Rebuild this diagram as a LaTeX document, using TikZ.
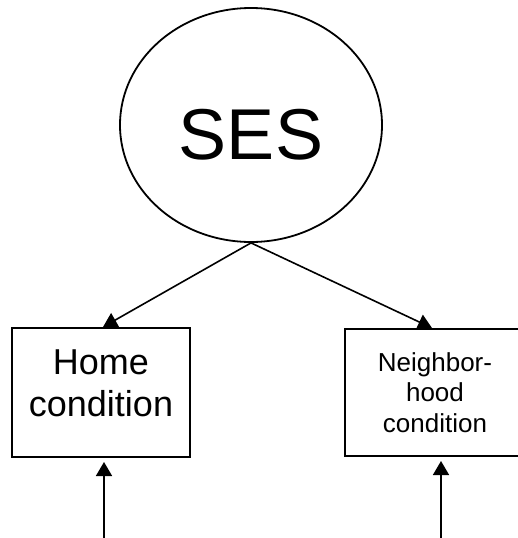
\documentclass[tikz,border=0pt]{standalone}
\usepackage{fontspec}
\setmainfont{Liberation Sans}
\usetikzlibrary{shapes.geometric,arrows.meta}
\begin{document}
\begin{tikzpicture}[x=1pt,y=-1pt,
  line/.style={line width=1.6pt},
  arr/.style={line, -{Triangle[length=14pt,width=16pt]}},
  boxnode/.style={draw, line width=2pt, rectangle, inner sep=0pt, align=center}]
\useasboundingbox (0,0) rectangle (517,538);
\node[draw, line width=1.8pt, ellipse, inner sep=0pt, minimum width=262pt, minimum height=234pt,
      text height=68pt, text depth=0pt, font=\fontsize{72}{86}\selectfont] (ses) at (251,125) {SES};
\node[boxnode, minimum width=178pt, minimum height=129pt, text depth=19pt,
      font=\fontsize{36}{41.5}\selectfont] (home) at (101,392.5) {Home\\condition};
\node[boxnode, minimum width=180pt, minimum height=127pt,
      font=\fontsize{26}{30.5}\selectfont] (nb) at (435,392.5) {Neighbor-\\hood\\condition};
\coordinate (homeerr) at (104,545);
\coordinate (nberr) at (441,545);
\draw[arr] (ses.south) -- ([xshift=2pt]home.north);
\draw[arr] (ses.south) -- ([xshift=-3pt]nb.north);
\draw[arr, shorten >=4pt] (homeerr) -- (homeerr |- home.south);
\draw[arr, shorten >=4pt] (nberr) -- (nberr |- nb.south);
\end{tikzpicture}
\end{document}
